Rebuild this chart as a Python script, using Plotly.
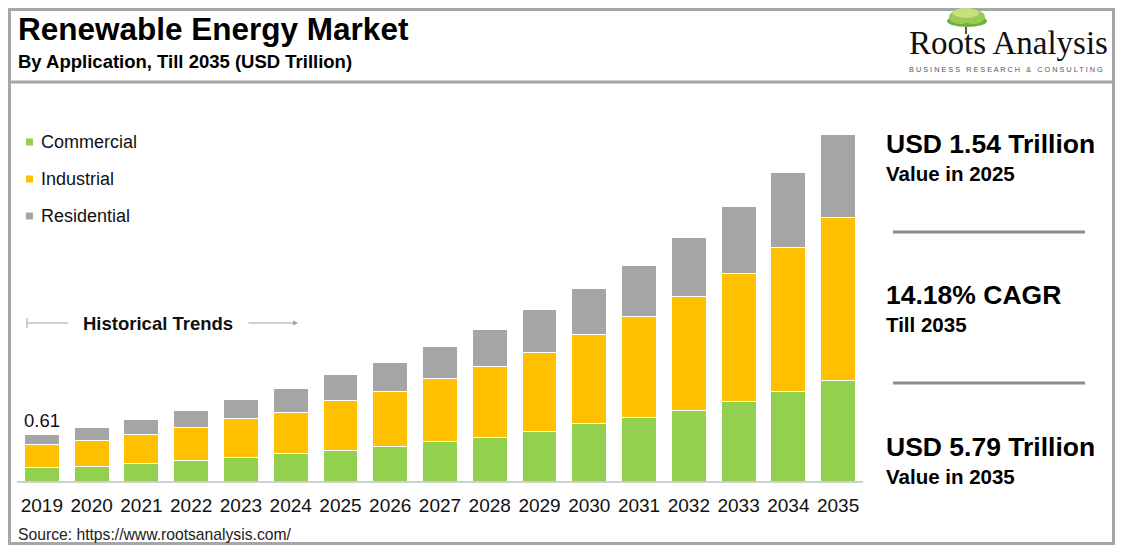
import plotly.graph_objects as go

# values (USD trillion), bottom to top of each stack
years = list(range(2019, 2036))
commercial = [0.18, 0.19, 0.23, 0.26, 0.30, 0.36, 0.40, 0.45, 0.51, 0.57, 0.64, 0.74, 0.82, 0.91, 1.03, 1.16, 1.30]
industrial = [0.29, 0.34, 0.38, 0.44, 0.51, 0.53, 0.64, 0.71, 0.82, 0.91, 1.03, 1.16, 1.31, 1.48, 1.66, 1.87, 2.12]
residential = [0.14, 0.17, 0.19, 0.22, 0.25, 0.31, 0.34, 0.38, 0.42, 0.48, 0.55, 0.60, 0.67, 0.77, 0.87, 0.97, 1.08]
series_names = ['Commercial', 'Industrial', 'Residential']
series_colors = ['#92D050', '#FFC000', '#A5A5A5']
first_label = '0.61'

kpis = [('USD 1.54 Trillion', 'Value in 2025'), ('14.18% CAGR', 'Till 2035'), ('USD 5.79 Trillion', 'Value in 2035')]

# page body has an 8px margin, so the figure is sized to fit inside the window without scrollbars
OFF = 8
W, H = 1107, 537
ML, MR, MT, MB = 9, 252, 112, 64
PW, PH = W - ML - MR, H - MT - MB
FONT = 'Liberation Sans, Arial, sans-serif'
BORDER = '#A6A6A6'

# page pixel -> paper helpers for the decoration around the plot
def px(x): return (x - OFF - ML) / PW
def py(y): return (H - MB - (y - OFF)) / PH

fig = go.Figure()
for name, vals, col in zip(series_names, [commercial, industrial, residential], series_colors):
    fig.add_bar(x=years, y=vals, name=name, marker=dict(color=col, line=dict(color='white', width=1)),
                showlegend=False)

shapes, annos = [], []

# outer frame + header separator
shapes.append(dict(type='rect', xref='paper', yref='paper', x0=px(9.5), x1=px(1113.5), y0=py(543.5), y1=py(9.5),
                   line=dict(color=BORDER, width=3)))
shapes.append(dict(type='line', xref='paper', yref='paper', x0=px(9.5), x1=px(1113.5), y0=py(82), y1=py(82),
                   line=dict(color=BORDER, width=3)))

annos.append(dict(xref='paper', yref='paper', x=px(16), y=py(29), xanchor='left', yanchor='middle',
                  text='<b>Renewable Energy Market</b>', showarrow=False, font=dict(family=FONT, size=31.5, color='black')))
annos.append(dict(xref='paper', yref='paper', x=px(16), y=py(62), xanchor='left', yanchor='middle',
                  text='<b>By Application, Till 2035 (USD Trillion)</b>', showarrow=False,
                  font=dict(family=FONT, size=18.5, color='black')))

# logo: little tree + wordmark
shapes.append(dict(type='line', xref='paper', yref='paper', x0=px(966), x1=px(966), y0=py(34), y1=py(22),
                   line=dict(color='#4f5d34', width=2)))
for (x0, x1, y0, y1, c) in [(947, 987, 15, 27, '#6FB03E'), (949, 972, 10, 24, '#9CCB55'),
                            (962, 985, 10, 24, '#9CCB55'), (953, 979, 8, 18, '#C6E07E')]:
    shapes.append(dict(type='circle', xref='paper', yref='paper', x0=px(x0), x1=px(x1), y0=py(y1), y1=py(y0),
                       fillcolor=c, line=dict(width=0)))
annos.append(dict(xref='paper', yref='paper', x=px(1008), y=py(43), xanchor='center', yanchor='middle',
                  text='Roots Analysis', showarrow=False,
                  font=dict(family='Liberation Serif, Times New Roman, serif', size=33, color='#111111')))
annos.append(dict(xref='paper', yref='paper', x=px(1006), y=py(69), xanchor='center', yanchor='middle',
                  text=' '.join('BUSINESS RESEARCH & CONSULTING').replace('   ', '\u00a0\u00a0\u00a0'),
                  showarrow=False, font=dict(family=FONT, size=7.3, color='#555555')))

# legend
for i, (name, col) in enumerate(zip(series_names, series_colors)):
    yc = 142 + 37 * i
    shapes.append(dict(type='rect', xref='paper', yref='paper', x0=px(26), x1=px(33), y0=py(yc + 3.5),
                       y1=py(yc - 3.5), fillcolor=col, line=dict(width=0)))
    annos.append(dict(xref='paper', yref='paper', x=px(39), y=py(yc), xanchor='left', yanchor='middle',
                      text=name, showarrow=False, font=dict(family=FONT, size=18, color='#111111')))

# historical trends marker
shapes.append(dict(type='line', xref='paper', yref='paper', x0=px(27), x1=px(68), y0=py(323), y1=py(323),
                   line=dict(color='#A0A0A0', width=1)))
shapes.append(dict(type='line', xref='paper', yref='paper', x0=px(27), x1=px(27), y0=py(318), y1=py(328),
                   line=dict(color='#A0A0A0', width=1)))
annos.append(dict(xref='paper', yref='paper', x=px(298), y=py(323), ax=-51, ay=0, axref='pixel',
                  ayref='pixel', showarrow=True, arrowhead=2, arrowsize=1, arrowwidth=1, arrowcolor='#A0A0A0', text=''))
annos.append(dict(xref='paper', yref='paper', x=px(158), y=py(323), xanchor='center', yanchor='middle',
                  text='<b>Historical Trends</b>', showarrow=False, font=dict(family=FONT, size=18.5, color='#111111')))

# value over first bar
annos.append(dict(x=years[0], y=commercial[0] + industrial[0] + residential[0], xref='x', yref='y',
                  yanchor='bottom', text=first_label, showarrow=False, yshift=1,
                  font=dict(family=FONT, size=18.5, color='#111111')))

# right-hand KPI panel
kpi_y = [144, 295, 447]
for (big, small), yc in zip(kpis, kpi_y):
    annos.append(dict(xref='paper', yref='paper', x=px(884), y=py(yc), xanchor='left', yanchor='middle',
                      text=f'<b>{big}</b>', showarrow=False, font=dict(family=FONT, size=26.5, color='black')))
    annos.append(dict(xref='paper', yref='paper', x=px(884), y=py(yc + 29), xanchor='left', yanchor='middle',
                      text=f'<b>{small}</b>', showarrow=False, font=dict(family=FONT, size=20.5, color='black')))
for yl in [232, 383]:
    shapes.append(dict(type='line', xref='paper', yref='paper', x0=px(893), x1=px(1085), y0=py(yl), y1=py(yl),
                       line=dict(color='#8C8C8C', width=3)))

annos.append(dict(xref='paper', yref='paper', x=px(16), y=py(534), xanchor='left', yanchor='middle',
                  text='Source: https://www.rootsanalysis.com/', showarrow=False,
                  font=dict(family=FONT, size=15.7, color='#222222')))

fig.update_layout(
    width=W, height=H, barmode='stack', bargap=0.3,
    margin=dict(l=ML, r=MR, t=MT, b=MB, pad=0),
    paper_bgcolor='white', plot_bgcolor='white',
    font=dict(family=FONT, color='#111111'),
    shapes=shapes, annotations=annos,
    xaxis=dict(range=[2018.5, 2035.5], tickmode='array', tickvals=years, ticktext=[str(y) for y in years],
               showgrid=False, zeroline=False, showline=True, linecolor='#D0D0D0', linewidth=1.5,
               ticks='outside', ticklen=6, tickcolor='rgba(0,0,0,0)', tickfont=dict(family=FONT, size=19, color='#111111')),
    yaxis=dict(range=[0, PH * 0.61 / 47], visible=False),
)

fig.write_html('out.html')
